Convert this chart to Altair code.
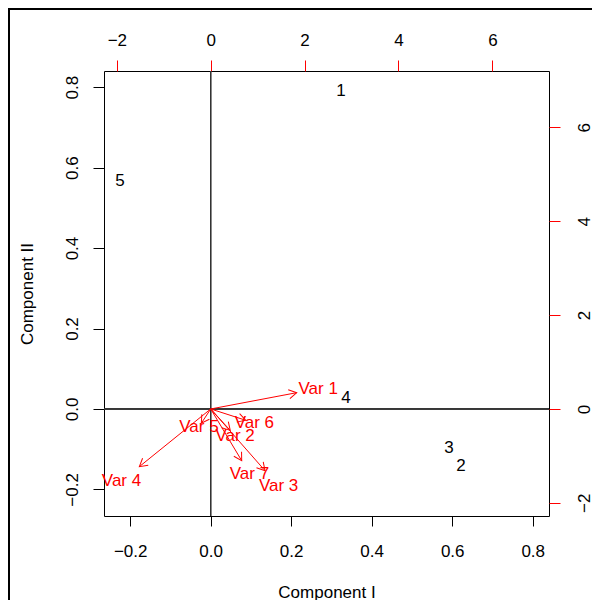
import altair as alt
import pandas as pd

# Observation scores (bottom/left scales)
score_labels = ["1", "2", "3", "4", "5"]
score_x = [0.324, 0.622, 0.592, 0.336, -0.225]
score_y = [0.790, -0.142, -0.097, 0.027, 0.566]

# Variable loadings (top/right scales)
var_labels = ["Var 1", "Var 2", "Var 3", "Var 4", "Var 5", "Var 6", "Var 7"]
load_x = [2.29, 0.52, 1.446, -1.90, -0.25, 0.93, 0.825]
load_y = [0.434, -0.57, -1.643, -1.536, -0.38, -0.30, -1.376]

bottom_ticks = [-0.2, 0.0, 0.2, 0.4, 0.6, 0.8]
left_ticks = [-0.2, 0.0, 0.2, 0.4, 0.6, 0.8]
top_ticks = [-2, 0, 2, 4, 6]
right_ticks = [-2, 0, 2, 4, 6]

FONT = "Liberation Sans"
FS = 17

scores = pd.DataFrame({"lab": score_labels, "sx": score_x, "sy": score_y})
loads = pd.DataFrame({"lab": var_labels, "lx": load_x, "ly": load_y, "o": [0.0] * len(var_labels)})

xs = alt.Scale(domain=[-0.265, 0.8405], nice=False, zero=False)
ys = alt.Scale(domain=[-0.266, 0.84], nice=False, zero=False)
xl = alt.Scale(domain=[-2.273, 7.206], nice=False, zero=False)
yl = alt.Scale(domain=[-2.28, 7.20], nice=False, zero=False)

score_text = alt.Chart(scores).mark_text(
    font=FONT, fontSize=FS, color="black", align="center", baseline="middle"
).encode(
    x=alt.X("sx:Q", scale=xs, axis=alt.Axis(
        orient="bottom", values=bottom_ticks, format=".1f", title="Component I",
        tickSize=10, labelPadding=25, labelBaseline="middle", domain=False, grid=False,
        titleY=76, titleBaseline="middle", titleX=222.5, titleAnchor="middle")),
    y=alt.Y("sy:Q", scale=ys, axis=alt.Axis(
        orient="left", values=left_ticks, format=".1f", title="Component II",
        tickSize=11, labelPadding=21, labelAngle=270, labelAlign="center",
        labelBaseline="middle", domain=False, grid=False,
        titleX=-77, titleY=222.5, titleAngle=270, titleBaseline="middle", titleAnchor="middle")),
    text="lab:N",
)

vrule = alt.Chart(scores).mark_rule(color="#333333", strokeWidth=1).encode(x=alt.datum(0))
hrule = alt.Chart(scores).mark_rule(color="#333333", strokeWidth=1).encode(y=alt.datum(0))

layer_a = alt.layer(score_text, vrule, hrule)

base_b = alt.Chart(loads).transform_calculate(
    tx="0.8*datum.lx", ty="0.8*datum.ly",
    ang="(atan2(datum.lx, datum.ly)*180/PI + 360) % 360",
)

top_axis = alt.Axis(
    orient="top", values=top_ticks, format="d", title=None,
    tickSize=11, tickColor="red", labelPadding=20, labelBaseline="middle",
    domain=False, grid=False)
right_axis = alt.Axis(
    orient="right", values=right_ticks, format="d", title=None,
    tickSize=11, tickColor="red", labelPadding=16, labelAngle=270, labelAlign="center",
    labelBaseline="top", domain=False, grid=False)

arrows = base_b.mark_rule(color="red", strokeWidth=1).encode(
    x=alt.X("o:Q", scale=xl, axis=top_axis),
    y=alt.Y("o:Q", scale=yl, axis=right_axis),
    x2="tx:Q",
    y2="ty:Q",
)

heads = base_b.mark_point(
    shape="M -0.5 0.866 L 0 0 L 0.5 0.866", filled=False, color="red",
    strokeWidth=1, size=324, opacity=1,
).encode(
    x=alt.X("tx:Q", scale=xl, axis=top_axis),
    y=alt.Y("ty:Q", scale=yl, axis=right_axis),
    angle=alt.Angle("ang:Q", scale=None),
)

var_text = base_b.mark_text(
    font=FONT, fontSize=FS, color="red", align="center", baseline="middle"
).encode(
    x=alt.X("lx:Q", scale=xl, axis=top_axis),
    y=alt.Y("ly:Q", scale=yl, axis=right_axis),
    text="lab:N",
)

layer_b = alt.layer(arrows, heads, var_text)

frame_top = alt.Chart(scores).mark_rule(color="black", strokeWidth=2).encode(
    x=alt.value(-96), x2=alt.value(500), y=alt.value(-62))
frame_left = alt.Chart(scores).mark_rule(color="black", strokeWidth=2).encode(
    x=alt.value(-95), y=alt.value(-63), y2=alt.value(540))

chart = alt.layer(layer_a, layer_b, frame_top, frame_left).resolve_scale(
    x="independent", y="independent"
).properties(
    width=445, height=445,
    autosize=alt.AutoSizeParams(type="none"),
    padding={"left": 96, "top": 63, "right": 43, "bottom": 84},
    background="white",
).configure_view(
    stroke="black", strokeWidth=1
).configure_axis(
    labelFont=FONT, labelFontSize=FS, labelColor="black",
    titleFont=FONT, titleFontSize=FS, titleFontWeight="normal", titleColor="black",
    tickColor="black", tickWidth=1,
)

chart.save("out.html", embed_options={"renderer": "svg", "actions": False})
